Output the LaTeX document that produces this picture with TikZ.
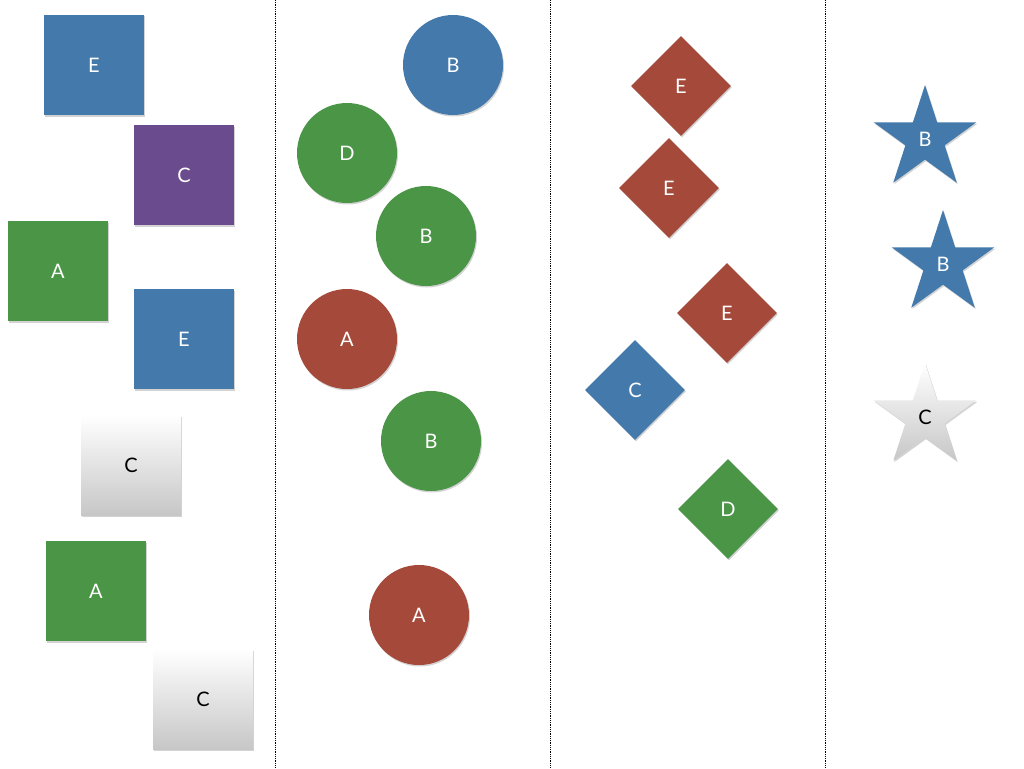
\documentclass[tikz,border=0pt]{standalone}
\usepackage{fontspec}
\setmainfont{Lato}
\usepackage{tikz}
\usetikzlibrary{shapes.geometric,shadows}

\definecolor{tileblue}{HTML}{4479AB}
\definecolor{tilepurple}{HTML}{6A4B8D}
\definecolor{tilegreen}{HTML}{4A9546}
\definecolor{tilered}{HTML}{A5493A}

\begin{document}
\begin{tikzpicture}[x=1pt, y=-1pt,
	nodes={inner sep=0pt, text=white, font=\fontsize{20}{24}\selectfont,
		drop shadow={opacity=0.35, shadow xshift=1pt, shadow yshift=-1.5pt}},
	tile/.style={rectangle, minimum size=100pt},
	disc/.style={circle, minimum size=100pt},
	rhomb/.style={diamond, minimum size=100pt},
	starry/.style={star, star points=5, star point ratio=2.618, minimum size=108pt},
	silver/.style={shading=axis, top color=white, bottom color=black!22, text=black},
	divider/.style={densely dotted, line width=0.8pt}]
  \useasboundingbox (0,0) rectangle (1024,768);
  % dividers
  \foreach \x in {275,550,825}
    \draw[divider] (\x,0) -- (\x,768);
  % squares
  \node[tile, fill=tileblue] (sqE1) at (94,65) {E};
  \node[tile, fill=tilepurple] (sqC1) at (184,175) {C};
  \node[tile, fill=tilegreen] (sqA1) at (58,271) {A};
  \node[tile, fill=tileblue] (sqE2) at (184,339) {E};
  \node[tile, silver] (sqC2) at (131,465) {C};
  \node[tile, fill=tilegreen] (sqA2) at (96,591) {A};
  \node[tile, silver] (sqC3) at (203,699) {C};
  % circles
  \node[disc, fill=tileblue] (ciB1) at (453,65) {B};
  \node[disc, fill=tilegreen] (ciD1) at (347,153) {D};
  \node[disc, fill=tilegreen] (ciB2) at (426,236) {B};
  \node[disc, fill=tilered] (ciA1) at (347,339) {A};
  \node[disc, fill=tilegreen] (ciB3) at (431,441) {B};
  \node[disc, fill=tilered] (ciA2) at (419,615) {A};
  % diamonds
  \node[rhomb, fill=tilered] (diE1) at (681,86) {E};
  \node[rhomb, fill=tilered] (diE2) at (669,188) {E};
  \node[rhomb, fill=tilered] (diE3) at (727,313) {E};
  \node[rhomb, fill=tileblue] (diC1) at (635,390) {C};
  \node[rhomb, fill=tilegreen] (diD1) at (728,509) {D};
  % stars
  \node[starry, fill=tileblue] (stB1) at (925,139) {B};
  \node[starry, fill=tileblue] (stB2) at (943,264) {B};
  \node[starry, silver] (stC1) at (925,417) {C};
\end{tikzpicture}
\end{document}
